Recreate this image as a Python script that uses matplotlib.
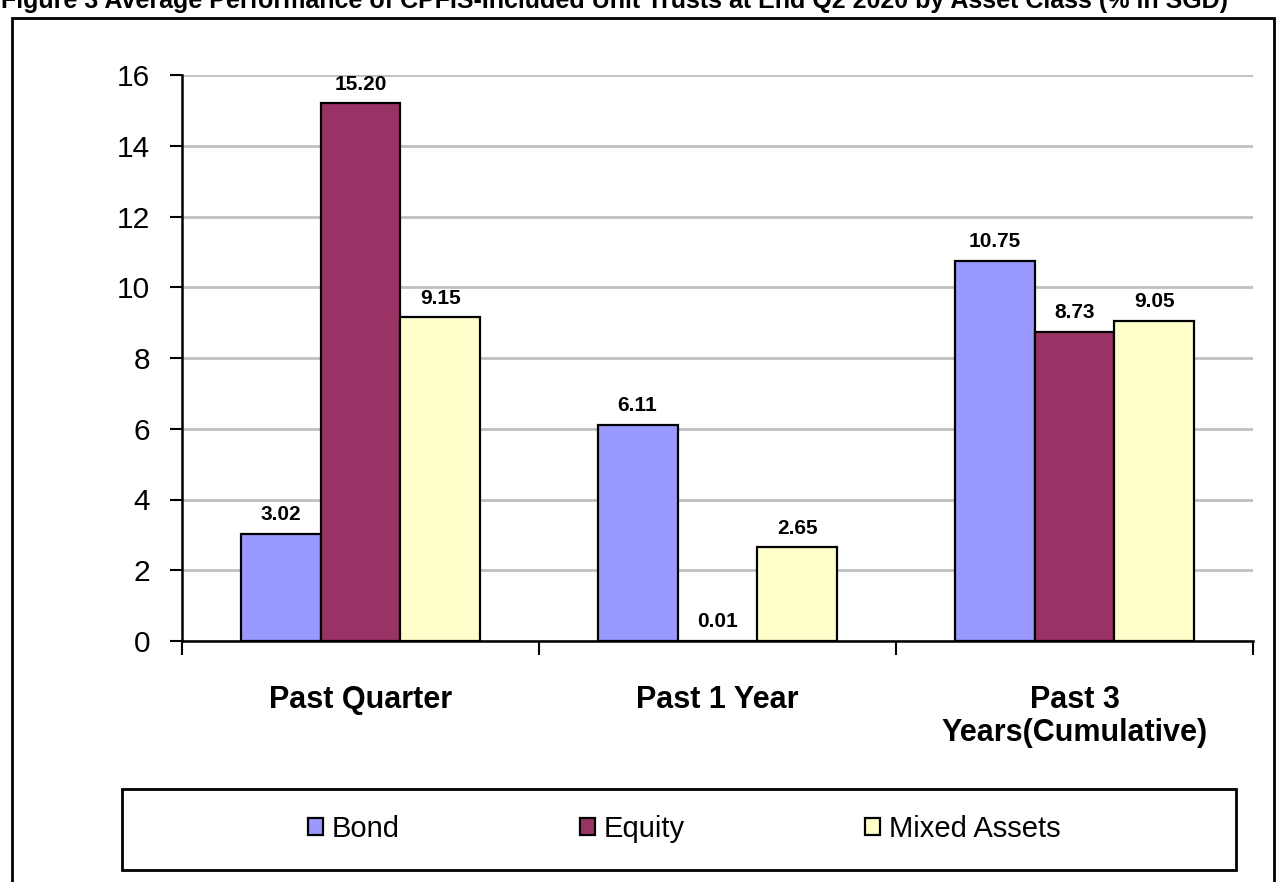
import matplotlib
matplotlib.use("Agg")
import matplotlib.pyplot as plt
from matplotlib.patches import Rectangle, Patch
import numpy as np

plt.rcParams['font.family'] = ['Liberation Sans', 'DejaVu Sans']

categories = ["Past Quarter", "Past 1 Year", "Past 3\nYears(Cumulative)"]
series_names = ["Bond", "Equity", "Mixed Assets"]
bond = [3.02, 6.11, 10.75]
equity = [15.20, 0.01, 8.73]
mixed = [9.15, 2.65, 9.05]
colors = ["#9999FF", "#993366", "#FFFFCC"]
yticks = [0, 2, 4, 6, 8, 10, 12, 14, 16]
title = "Figure 3 Average Performance of CPFIS-Included Unit Trusts at End Q2 2020 by Asset Class (% in SGD)"

W, H = 1277, 882
fig = plt.figure(figsize=(W / 100, H / 100), dpi=100)

ax = fig.add_axes([182 / W, 1 - 641 / H, (1253 - 182) / W, (641 - 75) / H])

x = np.arange(len(categories))
width = 0.224
for i, (vals, name, c) in enumerate(zip([bond, equity, mixed], series_names, colors)):
    bars = ax.bar(x + (i - 1) * width, vals, width, color=c, edgecolor="black",
                  linewidth=1.6, label=name, zorder=3)
    ax.bar_label(bars, labels=[f"{v:.2f}" for v in vals], padding=7,
                 fontsize=15, fontweight="bold", zorder=4)

ax.set_xlim(-0.5, len(categories) - 0.5)
ax.set_ylim(0, 16)
ax.set_yticks(yticks)
ax.set_yticklabels([str(t) for t in yticks], fontsize=21.5)
ax.yaxis.grid(True, color="#C0C0C0", linewidth=2, zorder=0)
ax.set_axisbelow(True)

ax.set_xticks(np.arange(len(categories) + 1) - 0.5)
ax.set_xticklabels([])
ax.tick_params(axis="x", which="major", length=10, width=1.5, direction="out", color="black")
ax.set_xticks(x, minor=True)
ax.set_xticklabels(categories, minor=True, fontsize=22, fontweight="bold", va="top", linespacing=1.1)
ax.tick_params(axis="x", which="minor", length=0, pad=32)
ax.tick_params(axis="y", length=9, width=1.5, direction="out", pad=14)

for s in ["top", "right"]:
    ax.spines[s].set_visible(False)
for s in ["left", "bottom"]:
    ax.spines[s].set_linewidth(1.8)
    ax.spines[s].set_color("black")
    ax.spines[s].set_zorder(2)

# outer frame
fig.patches.append(Rectangle((12 / W, -0.05), (1274 - 12) / W, 1 - 18 / H + 0.05,
                             transform=fig.transFigure, fill=False, edgecolor="black",
                             linewidth=2, clip_on=False))
# legend frame
fig.patches.append(Rectangle((122 / W, 1 - 870 / H), (1236 - 122) / W, (870 - 789) / H,
                             transform=fig.transFigure, fill=False, edgecolor="black",
                             linewidth=2))

handles = [Patch(facecolor=c, edgecolor="black", linewidth=1.6) for c in colors]
fig.legend(handles, series_names, loc="center", bbox_to_anchor=(684 / W, 1 - 829 / H),
           ncol=3, frameon=False, fontsize=21, handlelength=0.52, handleheight=0.52,
           handletextpad=0.28, columnspacing=6.2)

fig.text(0.001, 1 - 8 / H, title, fontsize=18, fontweight="bold", ha="left", va="baseline")

fig.savefig("out.png", dpi=100)
